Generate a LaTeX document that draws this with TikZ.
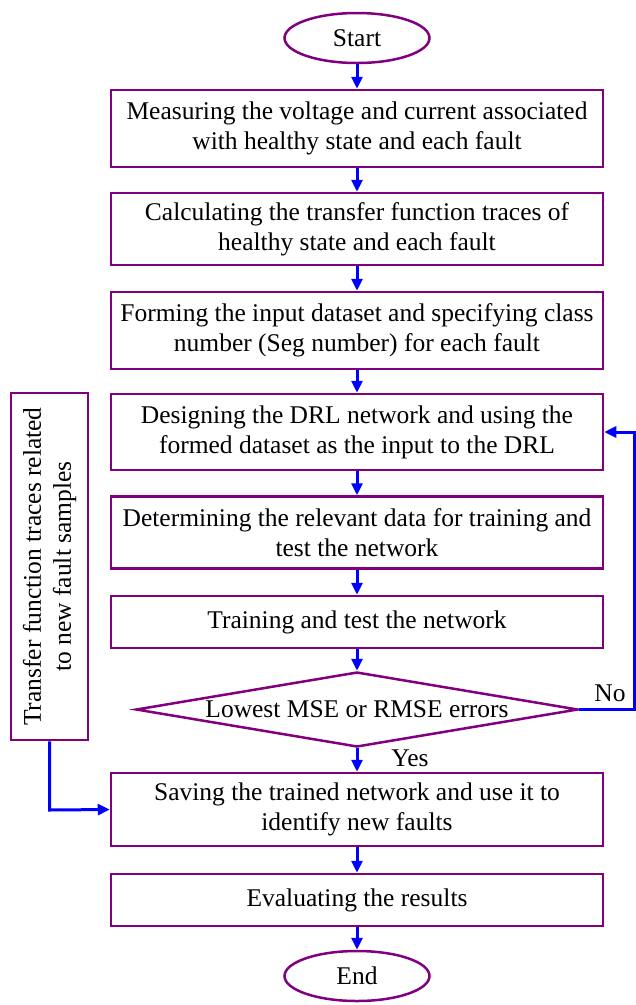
\documentclass[tikz,border=0pt]{standalone}
\usepackage{fontspec}
\setmainfont{Liberation Serif}
\usetikzlibrary{arrows.meta,shapes.geometric}
\definecolor{boxpurple}{RGB}{128,0,128}
\definecolor{arrowblue}{RGB}{0,0,255}
\tikzset{
  txt/.style={font=\fontsize{25.5}{30}\selectfont},
  stepbox/.style={draw=boxpurple, line width=2.5pt, rectangle, minimum width=492pt, inner sep=0pt, align=center, txt},
  term/.style={draw=boxpurple, line width=2.5pt, ellipse, minimum width=145pt, minimum height=50pt, inner sep=0pt, txt},
  decide/.style={draw=boxpurple, line width=2.5pt, diamond, minimum width=442pt, minimum height=75pt, inner sep=0pt, txt},
  flow/.style={draw=arrowblue, line width=3pt, -{Triangle[length=12pt,width=11pt]}},
  lbl/.style={txt, inner sep=0pt}
}
\begin{document}
\begin{tikzpicture}[x=1pt,y=-1pt]
\useasboundingbox (0,0) rectangle (636,1005);
\node[term] (start) at (357,38) {Start};
\node[stepbox, minimum height=77pt] (b1) at (357,128.5) {Measuring the voltage and current associated\\with healthy state and each fault};
\node[stepbox, minimum height=72pt] (b2) at (357,229) {Calculating the transfer function traces of\\healthy state and each fault};
\node[stepbox, minimum height=77pt] (b3) at (357,330.5) {Forming the input dataset and specifying class\\number (Seg number) for each fault};
\node[stepbox, minimum height=76pt] (b4) at (357,432) {Designing the DRL network and using the\\formed dataset as the input to the DRL};
\node[stepbox, minimum height=72pt] (b5) at (357,532.5) {Determining the relevant data for training and\\test the network};
\node[stepbox, minimum height=52pt] (b6) at (357,622) {Training and test the network};
\node[decide] (dec) at (357,709.5) {\makebox[0pt]{Lowest MSE or RMSE errors}};
\node[stepbox, minimum height=73pt] (b7) at (357,809.5) {Saving the trained network and use it to\\identify new faults};
\node[stepbox, minimum height=52pt] (b8) at (357,900) {Evaluating the results};
\node[term] (end) at (357,976) {End};
\node[draw=boxpurple, line width=2.5pt, rectangle, minimum width=347pt, minimum height=77pt, inner sep=0pt, align=center, rotate=90, txt] (side) at (49.5,566.5) {Transfer function traces related\\to new fault samples};
\coordinate (nr) at (634,709.5);
\coordinate (nt) at (634,432);
\coordinate (sb) at (49.5,810);
\draw[flow] (start) -- (b1);
\draw[flow] (b1) -- (b2);
\draw[flow] (b2) -- (b3);
\draw[flow] (b3) -- (b4);
\draw[flow] (b4) -- (b5);
\draw[flow] (b5) -- (b6);
\draw[flow] (b6) -- (dec);
\draw[flow] (dec) -- (b7);
\draw[flow] (b7) -- (b8);
\draw[flow] (b8) -- (end);
\draw[flow] (dec.east) -- (nr) -- (nt) -- (b4.east);
\draw[flow] (side.west) -- (sb) -- (b7.west);
\node[lbl] (no) at (610,693) {No};
\node[lbl] (yes) at (410,758) {Yes};
\end{tikzpicture}
\end{document}
